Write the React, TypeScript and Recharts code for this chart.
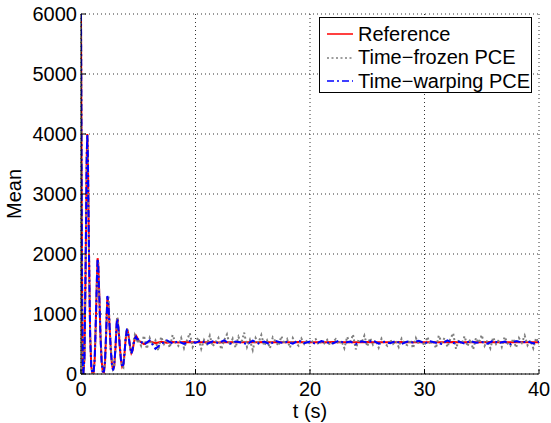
import React from "react";
import { LineChart, Line, XAxis, YAxis, CartesianGrid } from "recharts";

// sample times for the oscillating start (s)
const earlyT = [
  0, 0.05, 0.1, 0.15, 0.2,
  0.3, 0.4, 0.5, 0.55, 0.6,
  0.7, 0.8, 0.9, 1.0, 1.1,
  1.2, 1.3, 1.4, 1.45, 1.5,
  1.6, 1.7, 1.8, 1.9, 2.0,
  2.1, 2.2, 2.3, 2.4, 2.5,
  2.6, 2.7, 2.8, 2.9, 3.0,
  3.1, 3.15, 3.2, 3.3, 3.4,
  3.5, 3.6, 3.7, 3.8, 3.9,
  4.0, 4.05, 4.1, 4.2, 4.3,
  4.4, 4.5, 4.6, 4.7, 4.8,
  4.9,
];

const refEarly = [
  6000, 3500, 1200, 200, 0,
  250, 1700, 3600, 4000, 3650,
  2000, 650, 120, 10, 20,
  250, 900, 1650, 1930, 1850,
  1300, 650, 220, 40, 30,
  200, 700, 1280, 1150, 780,
  420, 170, 70, 130, 400,
  780, 930, 900, 700, 430,
  220, 120, 150, 340, 580,
  720, 730, 700, 580, 440,
  350, 390, 500, 600, 640,
  610,
];

const frozenEarly = [
  6000, 3550, 1250, 220, 0,
  240, 1650, 3550, 3980, 3700,
  2050, 680, 130, 5, 15,
  230, 870, 1620, 1900, 1870,
  1330, 680, 240, 60, 20,
  180, 680, 1250, 1300, 800,
  450, 190, 80, 120, 380,
  760, 950, 920, 720, 460,
  240, 130, 110, 320, 600,
  760, 740, 680, 560, 420,
  330, 420, 560, 650, 600,
  520,
];

const warpEarly = [
  6000, 3450, 1150, 180, 0,
  270, 1750, 3650, 3990, 3600,
  1950, 620, 110, 15, 30,
  270, 930, 1680, 1920, 1830,
  1270, 630, 210, 40, 40,
  220, 720, 1300, 1160, 770,
  400, 160, 60, 140, 410,
  790, 920, 890, 690, 420,
  210, 110, 160, 350, 590,
  730, 720, 690, 570, 430,
  340, 400, 510, 590, 620,
  580,
];

// steady part, time-frozen PCE sampled every 0.25 s
const quarterT = [
  5, 5.25, 5.5, 5.75, 6, 6.25, 6.5, 6.75, 7, 7.25, 7.5, 7.75, 8, 8.25, 8.5, 8.75,
  9, 9.25, 9.5, 9.75, 10, 10.25, 10.5, 10.75, 11, 11.25, 11.5, 11.75, 12, 12.25, 12.5, 12.75,
  13, 13.25, 13.5, 13.75, 14, 14.25, 14.5, 14.75, 15, 15.25, 15.5, 15.75, 16, 16.25, 16.5, 16.75,
  17, 17.25, 17.5, 17.75, 18, 18.25, 18.5, 18.75, 19, 19.25, 19.5, 19.75, 20, 20.25, 20.5, 20.75,
  21, 21.25, 21.5, 21.75, 22, 22.25, 22.5, 22.75, 23, 23.25, 23.5, 23.75, 24, 24.25, 24.5, 24.75,
  25, 25.25, 25.5, 25.75, 26, 26.25, 26.5, 26.75, 27, 27.25, 27.5, 27.75, 28, 28.25, 28.5, 28.75,
  29, 29.25, 29.5, 29.75, 30, 30.25, 30.5, 30.75, 31, 31.25, 31.5, 31.75, 32, 32.25, 32.5, 32.75,
  33, 33.25, 33.5, 33.75, 34, 34.25, 34.5, 34.75, 35, 35.25, 35.5, 35.75, 36, 36.25, 36.5, 36.75,
  37, 37.25, 37.5, 37.75, 38, 38.25, 38.5, 38.75, 39, 39.25, 39.5, 39.75, 40,
];

const frozenLate = [
  580, 470, 640, 420, 600, 480, 560, 390, 620, 500, 580, 440, 650, 520, 470, 600,
  430, 560, 680, 450, 540, 610, 420, 570, 500, 640, 460, 530, 600, 410, 560, 660,
  480, 590, 440, 620, 510, 690, 450, 570, 400, 600, 520, 650, 470, 560, 430, 610,
  540, 470, 630, 500, 580, 440, 600, 520, 470, 590, 500, 560, 500, 550, 580, 490,
  540, 510, 570, 480, 530, 580, 500, 550, 430, 620, 500, 660, 410, 580, 520, 640,
  460, 600, 490, 560, 440, 590, 520, 470, 570, 500, 550, 450, 590, 510, 480, 570,
  430, 600, 500, 550, 470, 620, 490, 560, 430, 640, 520, 600, 450, 580, 680, 420,
  570, 500, 630, 460, 580, 410, 600, 520, 650, 470, 560, 430, 610, 500, 570, 450,
  620, 510, 470, 590, 440, 600, 520, 640, 480, 560, 430, 600, 500,
];

// steady part, reference and time-warping PCE sampled every 0.5 s
const halfT = [
  5, 5.5, 6, 6.5, 7, 7.5, 8, 8.5, 9, 9.5,
  10, 10.5, 11, 11.5, 12, 12.5, 13, 13.5, 14, 14.5,
  15, 15.5, 16, 16.5, 17, 17.5, 18, 18.5, 19, 19.5,
  20, 20.5, 21, 21.5, 22, 22.5, 23, 23.5, 24, 24.5,
  25, 25.5, 26, 26.5, 27, 27.5, 28, 28.5, 29, 29.5,
  30, 30.5, 31, 31.5, 32, 32.5, 33, 33.5, 34, 34.5,
  35, 35.5, 36, 36.5, 37, 37.5, 38, 38.5, 39, 39.5,
  40,
];

const refLate = [
  560, 500, 545, 515, 538, 522, 534, 526, 532, 528,
  531, 529, 530, 533, 527, 531, 529, 532, 528, 530,
  531, 529, 532, 528, 530, 531, 529, 530, 532, 529,
  530, 531, 528, 530, 532, 529, 530, 531, 529, 530,
  532, 528, 530, 531, 529, 530, 532, 529, 530, 531,
  529, 530, 531, 528, 530, 532, 529, 530, 531, 529,
  530, 532, 529, 530, 531, 529, 530, 532, 528, 530,
  530,
];

const warpLate = [
  580, 490, 560, 420, 500, 560, 510, 545, 500, 550,
  520, 560, 500, 545, 515, 560, 505, 540, 525, 500,
  555, 510, 540, 495, 550, 520, 535, 505, 560, 515,
  540, 500, 550, 525, 510, 555, 520, 540, 500, 545,
  525, 560, 505, 535, 515, 550, 500, 540, 525, 555,
  510, 545, 520, 500, 560, 515, 540, 505, 550, 520,
  535, 505, 555, 515, 540, 500, 550, 525, 545, 510,
  540,
];

const xTicks = [0, 10, 20, 30, 40];
const yTicks = [0, 1000, 2000, 3000, 4000, 5000, 6000];

const legendItems = [
  { name: "Reference", color: "#ff0000", dash: undefined },
  { name: "Time\u2212frozen PCE", color: "#7f7f7f", dash: "2 2.5" },
  { name: "Time\u2212warping PCE", color: "#0000ff", dash: "7 3 2 3" },
];

const build = (ts: number[], vs: number[]) => ts.map((t, i) => ({ t, v: vs[i] }));

const refData = [...build(earlyT, refEarly), ...build(halfT, refLate)];
const frozenData = [...build(earlyT, frozenEarly), ...build(quarterT, frozenLate)];
const warpData = [...build(earlyT, warpEarly), ...build(halfT, warpLate)];

const font = "'Liberation Sans', Arial, Helvetica, sans-serif";
const tickStyle = { fontSize: 20, fill: "#000", fontFamily: font };

export default function App() {
  return (
    <div style={{ position: "absolute", left: 0, top: 0, width: 551, height: 423, background: "#fff" }}>
      <LineChart width={551} height={423} margin={{ top: 14, right: 12, bottom: 0, left: 0 }}>
        <CartesianGrid stroke="#333" strokeDasharray="1 3" ticks={yTicks} />
        <XAxis
          dataKey="t"
          type="number"
          domain={[0, 40]}
          ticks={xTicks}
          allowDataOverflow
          height={49}
          tick={tickStyle}
          tickSize={-5}
          tickMargin={13}
          stroke="#000"
          label={{ value: "t (s)", position: "insideBottom", offset: 5, style: { ...tickStyle } }}
        />
        <XAxis
          xAxisId="top"
          orientation="top"
          type="number"
          domain={[0, 40]}
          ticks={xTicks}
          height={0}
          tick={false}
          tickSize={-5}
          stroke="#000"
        />
        <YAxis
          type="number"
          domain={[0, 6000]}
          ticks={yTicks}
          allowDataOverflow
          width={81}
          tick={tickStyle}
          tickSize={-5}
          tickMargin={9}
          stroke="#000"
          label={{
            content: ({ viewBox }: any) => {
              const cy = viewBox.y + viewBox.height / 2;
              return (
                <text
                  x={14}
                  y={cy}
                  transform={`rotate(-90 14 ${cy})`}
                  textAnchor="middle"
                  dominantBaseline="central"
                  style={tickStyle}
                >
                  Mean
                </text>
              );
            },
          }}
        />
        <YAxis
          yAxisId="right"
          orientation="right"
          type="number"
          domain={[0, 6000]}
          ticks={yTicks}
          width={0}
          tick={false}
          tickSize={-5}
          stroke="#000"
        />
        <Line
          data={refData}
          dataKey="v"
          type="linear"
          stroke="#ff0000"
          strokeWidth={2}
          dot={false}
          isAnimationActive={false}
        />
        <Line
          data={frozenData}
          dataKey="v"
          type="linear"
          stroke="#7f7f7f"
          strokeWidth={2}
          strokeDasharray="2 2.5"
          dot={false}
          isAnimationActive={false}
        />
        <Line
          data={warpData}
          dataKey="v"
          type="linear"
          stroke="#0000ff"
          strokeWidth={2}
          strokeDasharray="7 3 2 3"
          dot={false}
          isAnimationActive={false}
        />
      </LineChart>
      <div
        style={{
          position: "absolute",
          left: 319,
          top: 17,
          width: 211,
          height: 74,
          border: "1px solid #000",
          background: "#fff",
          fontFamily: font,
          fontSize: 20,
          color: "#000",
        }}
      >
        {legendItems.map((it, i) => (
          <div
            key={it.name}
            style={{ position: "absolute", left: 6, top: 4 + i * 23.5, height: 24, display: "flex", alignItems: "center", whiteSpace: "nowrap" }}
          >
            <svg width={28} height={10} style={{ marginRight: 4 }}>
              <line x1={1} y1={5} x2={27} y2={5} stroke={it.color} strokeWidth={1.5} strokeDasharray={it.dash} />
            </svg>
            <span>{it.name}</span>
          </div>
        ))}
      </div>
    </div>
  );
}
